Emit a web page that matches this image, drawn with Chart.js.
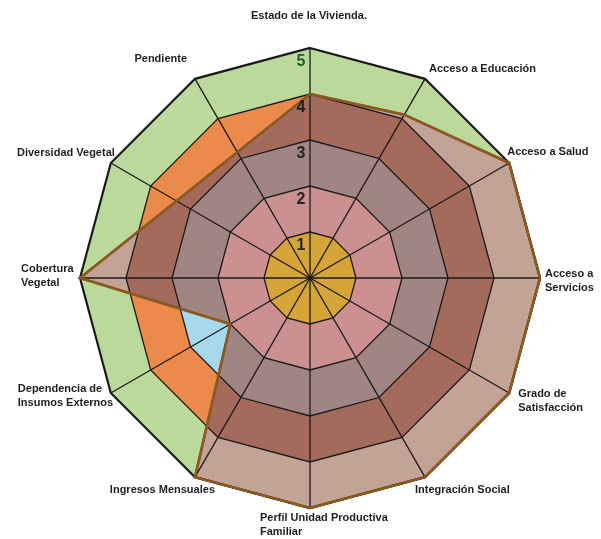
<!DOCTYPE html>
<html>
<head>
<meta charset="utf-8">
<script src="https://cdn.jsdelivr.net/npm/chart.js@4.4.1/dist/chart.umd.min.js"></script>
<style>
  html, body { margin: 0; padding: 0; background: #ffffff; }
  #wrap { width: 601px; height: 539px; position: relative; }
</style>
</head>
<body>
<div id="wrap"><canvas id="c" width="601" height="539"></canvas></div>
<script>
// ---- data ----
const categories = [
  'Estado de la Vivienda.',
  'Acceso a Educación',
  'Acceso a Salud',
  ['Acceso a', 'Servicios'],
  ['Grado de', 'Satisfacción'],
  'Integración Social',
  ['Perfil Unidad Productiva', 'Familiar'],
  'Ingresos Mensuales',
  ['Dependencia de', 'Insumos Externos'],
  ['Cobertura', 'Vegetal'],
  'Diversidad Vegetal',
  'Pendiente'
];
const values = [4, 4.1, 5, 5, 5, 5, 5, 5, 2, 5, 3.35, 3.16];
const ringLevels = [1, 2, 3, 4, 5];
const tickLabels = ['1', '2', '3', '4', '5'];

// ---- styles ----
const outerColors = ['#d6a53a', '#cc9090', '#a8d8ec', '#ec8a4c', '#bcd99c'];
const innerColors = ['#d6a53a', '#cc9090', '#a08583', '#a46a5c', '#c2a396'];
const labelLayout = [
  { align: 'center', dx: -1,  dy: -32 },
  { align: 'left',   dx: 4,   dy: -10 },
  { align: 'left',   dx: -2,  dy: -11 },
  { align: 'left',   dx: 5,   dy: -4 },
  { align: 'left',   dx: 9,   dy: 1 },
  { align: 'left',   dx: -10, dy: 13 },
  { align: 'left',   dx: -50, dy: 10 },
  { align: 'right',  dx: 20,  dy: 13 },
  { align: 'left',   dx: -93, dy: -4 },
  { align: 'left',   dx: -59, dy: -9 },
  { align: 'right',  dx: 4,   dy: -10 },
  { align: 'right',  dx: -8,  dy: -20 }
];

const bandData = ringLevels.map(l => categories.map(() => l));

const datasets = [{
  label: 'Valoración',
  data: values,
  fill: false,
  borderColor: '#8b5a22',
  borderWidth: 2.5,
  pointRadius: 0,
  clip: false
}];
ringLevels.forEach((l, i) => datasets.push({
  label: 'in' + l, data: bandData[i], fill: 'origin',
  backgroundColor: innerColors[i], borderWidth: 0, pointRadius: 0, clip: false
}));
ringLevels.forEach((l, i) => datasets.push({
  label: 'out' + l, data: bandData[i], fill: 'origin',
  backgroundColor: outerColors[i], borderWidth: 0, pointRadius: 0, clip: false
}));

const INNER_FIRST = ringLevels.length + 1;
const INNER_LAST = 1;

const clipPlugin = {
  id: 'clipInner',
  afterDatasetDraw(chart, args) {
    const ctx = chart.ctx;
    if (args.index === INNER_FIRST) {
      const pts = chart.getDatasetMeta(0).data;
      ctx.save();
      ctx.beginPath();
      pts.forEach((p, i) => { if (i === 0) ctx.moveTo(p.x, p.y); else ctx.lineTo(p.x, p.y); });
      ctx.closePath();
      ctx.clip();
    } else if (args.index === INNER_LAST) {
      ctx.restore();
    }
  },
  afterDraw(chart) {
    const s = chart.scales.r;
    const ctx = chart.ctx;
    const meta = chart.getDatasetMeta(0);
    meta.dataset.draw(ctx, chart.chartArea);

    ctx.save();
    ctx.font = 'bold 11px "Liberation Sans", Arial, sans-serif';
    ctx.fillStyle = '#1e1e1e';
    ctx.textBaseline = 'middle';
    chart.data.labels.forEach((lab, i) => {
      const p = s.getPointPosition(i, s.drawingArea);
      const L = labelLayout[i];
      ctx.textAlign = L.align;
      const lines = Array.isArray(lab) ? lab : [lab];
      lines.forEach((t, j) => ctx.fillText(t, p.x + L.dx, p.y + L.dy + j * 14));
    });
    ctx.font = 'bold 16px "Liberation Sans", Arial, sans-serif';
    ctx.textAlign = 'center';
    tickLabels.forEach((t, k) => {
      const p = s.getPointPositionForValue(0, ringLevels[k]);
      ctx.fillStyle = k === tickLabels.length - 1 ? '#1f5a2c' : '#222222';
      ctx.fillText(t, p.x - 9, p.y + 14);
    });
    ctx.restore();
  }
};

new Chart(document.getElementById('c'), {
  type: 'radar',
  data: { labels: categories, datasets },
  options: {
    responsive: false,
    animation: false,
    devicePixelRatio: 1,
    layout: { padding: { left: 80, right: 61, top: 48, bottom: 31 } },
    elements: { line: { tension: 0 } },
    plugins: { legend: { display: false }, tooltip: { enabled: false } },
    scales: {
      r: {
        min: 0, max: 5, beginAtZero: true,
        startAngle: 0,
        ticks: { display: false, stepSize: 1 },
        pointLabels: { display: false },
        grid: {
          z: 1, circular: false, color: '#1a1a1a',
          lineWidth: c => (c.index === ringLevels.length ? 2.2 : 1.3)
        },
        angleLines: { display: true, color: '#1a1a1a', lineWidth: 1.3 }
      }
    }
  },
  plugins: [clipPlugin]
});
</script>
</body>
</html>
